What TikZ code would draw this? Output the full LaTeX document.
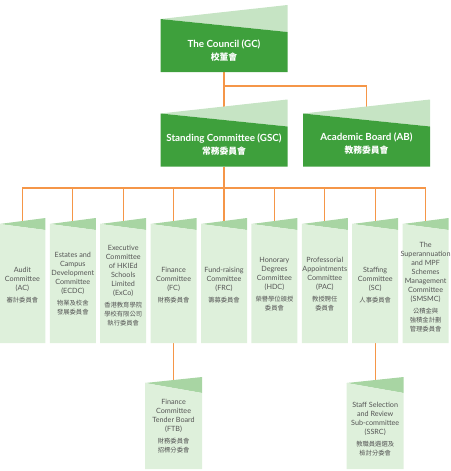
\documentclass[tikz,border=0pt]{standalone}
\usepackage{fontspec}
\setmainfont{Lato}
\newfontfamily\cjk{Noto Sans CJK TC}
\usetikzlibrary{backgrounds}
\definecolor{darkg}{RGB}{62,160,60}
\definecolor{lightg}{RGB}{198,228,196}
\definecolor{midg}{RGB}{168,213,163}
\definecolor{paleg}{RGB}{222,240,219}
\definecolor{txtg}{RGB}{85,85,85}
\definecolor{conn}{RGB}{245,150,72}
\newcommand\zh[1]{{\cjk\fontsize{6.3}{9}\selectfont #1}}
\newcommand\zht[1]{{\cjk\fontsize{8.8}{13}\selectfont #1}}
\tikzset{
  topbox/.style={minimum width=127pt, minimum height=67pt, inner sep=0pt, outer sep=0pt,
    path picture={
      \fill[lightg] ([yshift=-14pt]path picture bounding box.north west) -- (path picture bounding box.north east) -- ([yshift=-27pt]path picture bounding box.north east) -- cycle;
      \fill[darkg] ([yshift=-14pt]path picture bounding box.north west) -- ([yshift=-27pt]path picture bounding box.north east) -- (path picture bounding box.south east) -- (path picture bounding box.south west) -- cycle;}},
  combox/.style={minimum width=46pt, minimum height=125pt, inner sep=0pt, outer sep=0pt,
    path picture={
      \fill[midg] ([yshift=-6pt]path picture bounding box.north west) -- (path picture bounding box.north east) -- ([yshift=-12pt]path picture bounding box.north east) -- cycle;
      \fill[paleg] ([yshift=-6pt]path picture bounding box.north west) -- ([yshift=-12pt]path picture bounding box.north east) -- (path picture bounding box.south east) -- (path picture bounding box.south west) -- cycle;}},
  subbox/.style={minimum width=57pt, minimum height=92pt, inner sep=0pt, outer sep=0pt,
    path picture={
      \fill[midg] ([yshift=-6pt]path picture bounding box.north west) -- (path picture bounding box.north east) -- ([yshift=-16pt]path picture bounding box.north east) -- cycle;
      \fill[paleg] ([yshift=-6pt]path picture bounding box.north west) -- ([yshift=-16pt]path picture bounding box.north east) -- (path picture bounding box.south east) -- (path picture bounding box.south west) -- cycle;}},
  toptext/.style={align=center, text=white, inner sep=0pt, font=\fontsize{9.8}{13}\selectfont\bfseries},
  comtext/.style={align=center, text=txtg, inner sep=0pt, font=\fontsize{7.2}{9}\selectfont},
  link/.style={draw=conn, line width=1.1pt},
}
\begin{document}
\begin{tikzpicture}[x=1pt,y=-1pt]
\useasboundingbox (0,0) rectangle (450,471);
% top level
\node[topbox] (gc) at (224,38.5) {};
\node[toptext] (gct) at (224,50.5) {The Council (GC)\\\zht{校董會}};
\node[topbox] (gsc) at (224,133) {};
\node[toptext] (gsct) at (224,144.5) {Standing Committee (GSC)\\\zht{常務委員會}};
\node[topbox] (ab) at (366.5,133) {};
\node[toptext] (abt) at (366.5,143.5) {Academic Board (AB)\\\zht{教務委員會}};
% committees
\node[combox] (ac) at (22.4,280.5) {};
\node[comtext] (act) at (22.4,285) {Audit\\Committee\\(AC)\\[3pt]\zh{審計委員會}};
\node[combox] (ecdc) at (72.8,280.5) {};
\node[comtext] (ecdct) at (72.8,284) {Estates and\\Campus\\Development\\Committee\\(ECDC)\\[3pt]\zh{物業及校舍}\\\zh{發展委員會}};
\node[combox] (exco) at (123.2,280.5) {};
\node[comtext] (excot) at (123.2,286) {Executive\\Committee\\of HKIEd\\Schools\\Limited\\(ExCo)\\[3pt]\zh{香港教育學院}\\\zh{學校有限公司}\\\zh{執行委員會}};
\node[combox] (fc) at (173.6,280.5) {};
\node[comtext] (fct) at (173.6,285) {Finance\\Committee\\(FC)\\[3pt]\zh{財務委員會}};
\node[combox] (frc) at (224,280.5) {};
\node[comtext] (frct) at (224,285) {Fund-raising\\Committee\\(FRC)\\[3pt]\zh{籌募委員會}};
\node[combox] (hdc) at (274.4,280.5) {};
\node[comtext] (hdct) at (274.4,284.5) {Honorary\\Degrees\\Committee\\(HDC)\\[3pt]\zh{榮譽學位頒授}\\\zh{委員會}};
\node[combox] (pac) at (324.8,280.5) {};
\node[comtext] (pact) at (324.8,284) {Professorial\\Appointments\\Committee\\(PAC)\\[3pt]\zh{教授聘任}\\\zh{委員會}};
\node[combox] (sc) at (375.2,280.5) {};
\node[comtext] (sct) at (375.2,285) {Staffing\\Committee\\(SC)\\[3pt]\zh{人事委員會}};
\node[combox] (smsmc) at (425.6,280.5) {};
\node[comtext] (smsmct) at (425.6,287) {The\\Superannuation\\and MPF\\Schemes\\Management\\Committee\\(SMSMC)\\[3pt]\zh{公積金與}\\\zh{強積金計劃}\\\zh{管理委員會}};
% sub-committees
\node[subbox] (ftb) at (173.6,423) {};
\node[comtext] (ftbt) at (173.6,426.5) {Finance\\Committee\\Tender Board\\(FTB)\\[3pt]\zh{財務委員會}\\\zh{招標分委會}};
\node[subbox] (ssrc) at (375.2,423) {};
\node[comtext] (ssrct) at (375.2,429.5) {Staff Selection\\and Review\\Sub-committee\\(SSRC)\\[3pt]\zh{教職員遴選及}\\\zh{檢討分委會}};
% connectors
\coordinate (j1) at (224,86);
\coordinate (j2) at (224,188);
\begin{scope}[on background layer]
\draw[link] (gc.south) -- (gsc.center);
\draw[link] (j1) -| (ab.center);
\draw[link] (gsc.south) -- (frc.center);
\foreach \n in {ac,ecdc,exco,fc,hdc,pac,sc,smsmc}
  \draw[link] (j2) -| (\n.center);
\draw[link] (fc.south) -- (ftb.center);
\draw[link] (sc.south) -- (ssrc.center);
\end{scope}
\end{tikzpicture}
\end{document}
